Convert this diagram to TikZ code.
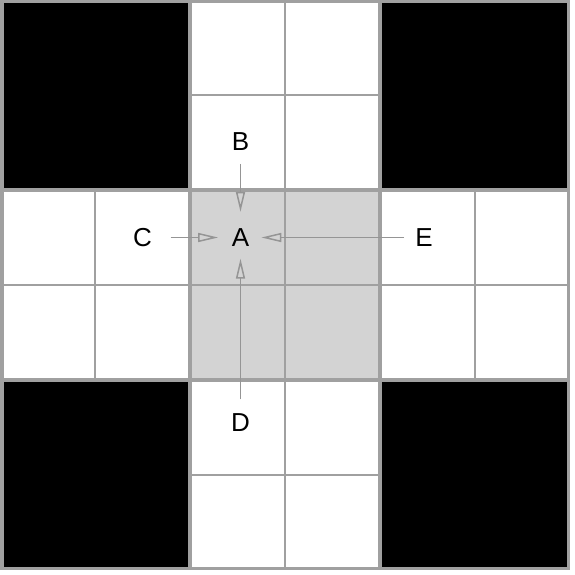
\documentclass[tikz,border=0pt]{standalone}
\usepackage{fontspec}
\setmainfont{Liberation Sans}
\usetikzlibrary{arrows.meta}
\definecolor{gridgray}{HTML}{A0A0A0}
\definecolor{centergray}{HTML}{D3D3D3}
\definecolor{arrowgray}{HTML}{959595}
\tikzset{
  lbl/.style={inner sep=0pt, font=\fontsize{26}{27}\selectfont},
  thinline/.style={draw=gridgray, line width=1.5pt},
  thickline/.style={draw=gridgray, line width=3.5pt},
  conn/.style={draw=arrowgray, line width=1.5pt, -{Triangle[open, length=20pt, width=9pt]}},
}
\begin{document}
\begin{tikzpicture}[x=1pt,y=-1pt]
\useasboundingbox (0,0) rectangle (575,575);
\fill[white] (0,0) rectangle (575,575);
% corner blocks
\fill[black] (0,0) rectangle (190,190);
\fill[black] (380,0) rectangle (570,190);
\fill[black] (0,380) rectangle (190,570);
\fill[black] (380,380) rectangle (570,570);
% centre block
\fill[centergray] (190,190) rectangle (380,380);
% thin lines
\draw[thinline] (285,0) -- (285,570);
\draw[thinline] (0,285) -- (570,285);
\draw[thinline] (190,95) -- (380,95);
\draw[thinline] (190,475) -- (380,475);
\draw[thinline] (95,190) -- (95,380);
\draw[thinline] (475,190) -- (475,380);
% thick lines
\draw[thickline] (190,0) -- (190,570);
\draw[thickline] (380,0) -- (380,570);
\draw[thickline] (0,190) -- (570,190);
\draw[thickline] (0,380) -- (570,380);
\draw[draw=gridgray, line width=3.5pt] (1.75,1.75) rectangle (568.25,568.25);
% labels
\node[lbl] (A) at (240.5,237.5) {A};
\node[lbl] (B) at (240.5,141.7) {B};
\node[lbl] (C) at (142.5,237.5) {C};
\node[lbl] (D) at (240.5,422.5) {D};
\node[lbl] (E) at (424,237.5) {E};
% connectors
\draw[conn, shorten <=13pt, shorten >=16.5pt] (B) -- (A);
\draw[conn, shorten <=18.5pt, shorten >=13.5pt] (C) -- (A);
\draw[conn, shorten <=11pt, shorten >=12pt] (E) -- (A);
\draw[conn, shorten <=14pt, shorten >=12pt] (D) -- (A);
\end{tikzpicture}
\end{document}
